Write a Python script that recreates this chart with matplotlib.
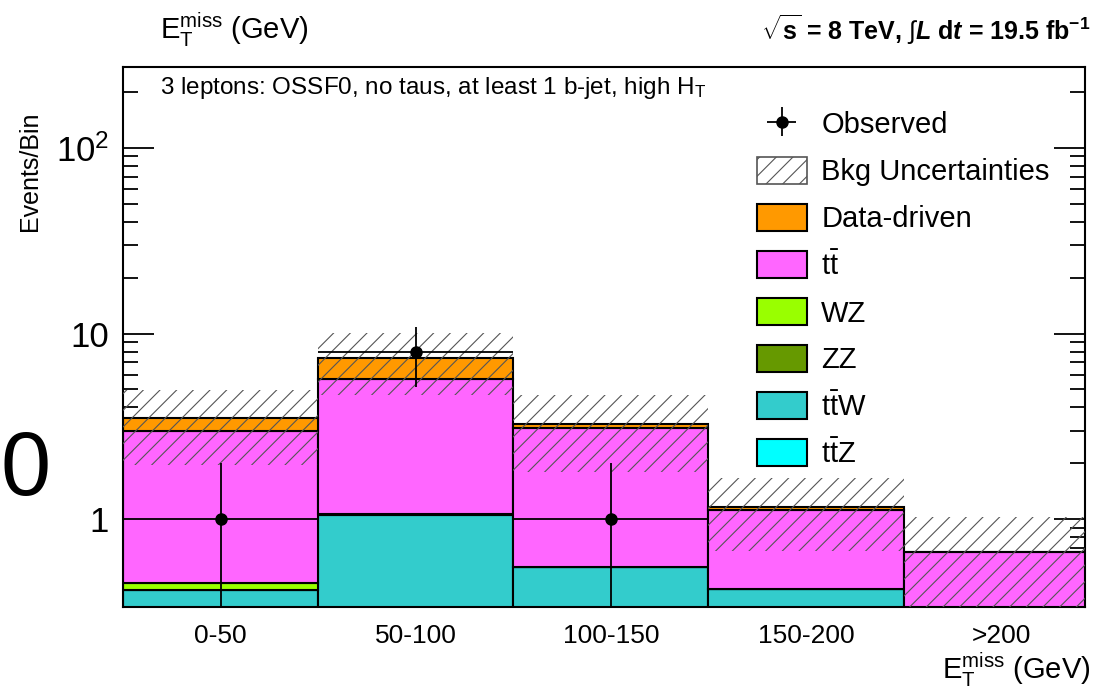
import numpy as np
import matplotlib
matplotlib.use('Agg')
import matplotlib.pyplot as plt
from matplotlib.patches import Patch
from matplotlib.ticker import FixedLocator, FixedFormatter, LogLocator, NullFormatter

# MET bins, 3 leptons OSSF0, >=1 b-jet, high HT
bins = ['0-50', '50-100', '100-150', '150-200', '>200']
ttz = [0.0, 0.0, 0.0, 0.0, 0.0]
ttw = [0.414, 1.05, 0.55, 0.42, 0.0]
zz = [0.0, 0.02, 0.0, 0.0, 0.0]
wz = [0.038, 0.0, 0.0, 0.0, 0.0]
ttbar = [2.53, 4.62, 2.54, 0.70, 0.664]
datadriven = [0.52, 1.69, 0.16, 0.04, 0.0]
bkg_lo = [1.95, 4.66, 1.79, 0.67, 0.30]
bkg_hi = [4.96, 10.07, 4.66, 1.66, 1.03]
observed = [1, 8, 1, 0, 0]

plt.rcParams['font.family'] = ['Liberation Sans', 'DejaVu Sans']
plt.rcParams['mathtext.fontset'] = 'custom'
plt.rcParams['mathtext.rm'] = 'Liberation Sans'
plt.rcParams['mathtext.it'] = 'Liberation Sans:italic:bold'
plt.rcParams['mathtext.bf'] = 'Liberation Sans:bold'
plt.rcParams['hatch.linewidth'] = 0.8

fig = plt.figure(figsize=(10.97, 6.91), dpi=100)
ax = fig.add_axes([123/1097, 1-607/691, (1085-123)/1097, (607-67)/691])
x = np.arange(len(bins))

components = [
    (ttz, '#00ffff', r'$\mathrm{t\bar{t}Z}$'),
    (ttw, '#33cccc', r'$\mathrm{t\bar{t}W}$'),
    (zz, '#669900', 'ZZ'),
    (wz, '#99ff00', 'WZ'),
    (ttbar, '#ff66ff', r'$\mathrm{t\bar{t}}$'),
    (datadriven, '#ff9900', 'Data-driven'),
]
bottom = np.zeros(len(bins))
handles = []
for vals, col, lab in components:
    vals = np.array(vals)
    ax.bar(x, vals, width=1, bottom=bottom, align='edge', color=col,
           edgecolor='black', linewidth=1.5, zorder=2)
    bottom += vals
    handles.append(Patch(facecolor=col, edgecolor='black', linewidth=1.5, label=lab))
handles = handles[::-1]

lo = np.array(bkg_lo)
hi = np.array(bkg_hi)
ax.bar(x, hi - lo, width=1, bottom=lo, align='edge', fill=False, hatch='//',
       edgecolor='#555555', linewidth=0, zorder=3)
band = Patch(facecolor='white', edgecolor='#555555', hatch='//', linewidth=1.2,
             label='Bkg Uncertainties')

obs = np.array(observed, dtype=float)
m = obs > 0
err = np.sqrt(obs[m])
eb = ax.errorbar(x[m] + 0.5, obs[m], xerr=0.5, yerr=[err, err], fmt='o',
                 color='black', ms=8, lw=1.3, capsize=0, zorder=4, label='Observed')

ax.set_yscale('log')
ax.set_ylim(0.336, 273)
ax.set_xlim(0, 4.93)
ax.set_xticks(x + 0.5)
ax.set_xticklabels(bins, fontsize=19)
ax.tick_params(axis='x', length=0, pad=12)
ax.yaxis.set_major_locator(FixedLocator([1, 10, 100]))
ax.yaxis.set_major_formatter(FixedFormatter(['1', '10', r'$10^{2}$']))
ax.yaxis.set_minor_locator(LogLocator(base=10, subs=np.arange(2, 10)))
ax.yaxis.set_minor_formatter(NullFormatter())
ax.tick_params(axis='y', which='both', direction='in', left=True, right=True,
               labelsize=25, width=1.3)
ax.tick_params(axis='y', which='major', length=22, pad=10)
ax.tick_params(axis='y', which='minor', length=11)
for s in ax.spines.values():
    s.set_linewidth(1.5)

leg = fig.legend([eb, band] + handles,
                 ['Observed', 'Bkg Uncertainties'] + [h.get_label() for h in handles],
                 loc='upper left', bbox_to_anchor=(757/1097, 1-110/691),
                 frameon=False, fontsize=21, handlelength=1.7, handleheight=1.05,
                 handletextpad=0.5, labelspacing=0.6, borderpad=0, borderaxespad=0)

fig.text(160/1097, 1-30/691, r'$\mathrm{E}_{\mathrm{T}}^{\mathrm{miss}}$ (GeV)',
         fontsize=21, va='center')
fig.text(1090/1097, 1-30/691,
         r'$\mathbf{\sqrt{s}}$ = 8 TeV, $\int$$L$ d$t$ = 19.5 fb$^{\mathbf{-1}}$',
         fontsize=18, fontweight='bold', ha='right', va='center')
fig.text(160/1097, 1-88/691,
         r'3 leptons: OSSF0, no taus, at least 1 b-jet, high H$_{\mathrm{T}}$',
         fontsize=17.5, va='center')
fig.text(30/1097, 1-171/691, 'Events/Bin', rotation=90, fontsize=18,
         ha='center', va='center')
fig.text(1090/1097, 1-670/691, r'$\mathrm{E}_{\mathrm{T}}^{\mathrm{miss}}$ (GeV)',
         fontsize=21, ha='right', va='center')
fig.text(0, 1-472/691, '0', fontsize=65, ha='left', va='center')

fig.savefig('out.png', dpi=100)
